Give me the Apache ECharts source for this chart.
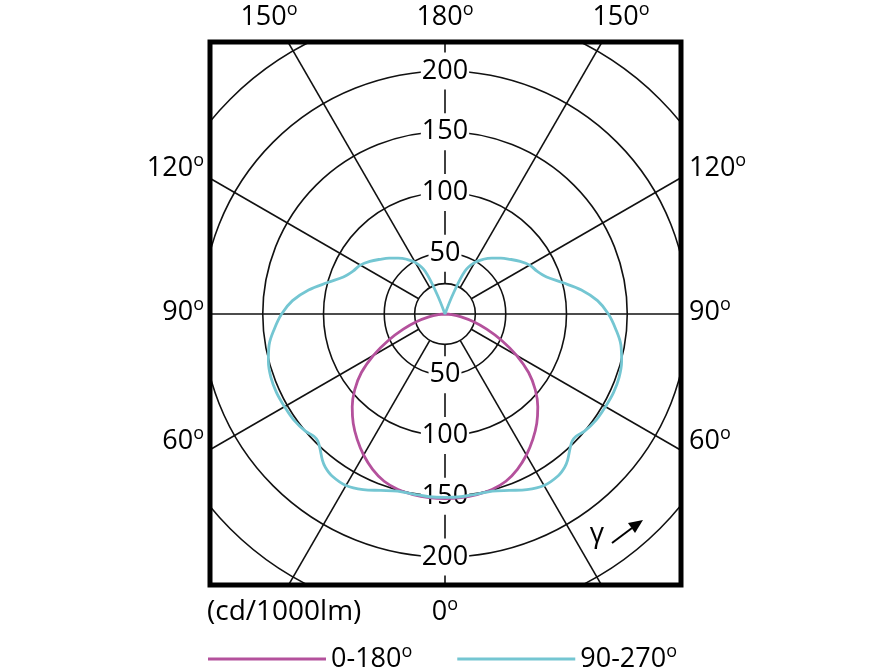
<!DOCTYPE html>
<html>
<head>
<meta charset="utf-8">
<script src="https://cdn.jsdelivr.net/npm/echarts@6/dist/echarts.min.js"></script>
<style>html,body{margin:0;padding:0;background:#fff}#c{width:892px;height:669px}</style>
</head>
<body>
<div id="c"></div>
<script>
// ---- data (gamma in degrees, intensity in cd/1000lm) ----
const gammaC0 = [0, 5, 10, 15, 20, 25, 30, 35, 40, 45, 50, 55, 60, 65, 70, 75, 80, 85, 90];
const intensityC0 = [152, 151.8, 151, 149.5, 146.5, 141, 134, 126, 117.5, 108, 97, 84, 68, 51.5, 36.5, 24, 13.5, 5.5, 0];

const gammaC90 = [0, 5, 10, 15, 20, 25, 30, 35, 38, 40, 43, 45, 47, 50, 55, 60, 65, 70, 75, 80, 85, 90, 95, 100, 105, 110, 115, 120, 125, 130, 135, 140, 145, 150, 155, 158, 160, 170, 180];
const intensityC90 = [151, 151, 150.5, 151, 154.5, 159.5, 163, 162.5, 160, 157, 151, 148, 147.5, 150, 152, 152.5, 153, 152.5, 150.5, 147, 141, 134.5, 126, 114, 100, 89, 83.5, 80.5, 75.5, 70, 65, 60, 55, 49, 39, 18, 0, 0, 0];

const seriesNames = ['0-180', '90-270'];
const radiusLabels = [50, 100, 150, 200];
const ringValues = [25, 50, 100, 150, 200, 250];
const topAngleLabels = ['150', '180', '150'];
const leftAngleLabels = ['120', '90', '60'];
const rightAngleLabels = ['120', '90', '60'];
const bottomAngleLabel = '0';
const unitLabel = '(cd/1000lm)';

// ---- layout / style ----
const FONT = 'Open Sans';
const FS = 27;
const CX = 445, CY = 314, K = 1.215;
const COLOR_C0 = '#b4519c';
const COLOR_C90 = '#74c6d2';
const T = 'rgba(0,0,0,0)';

function mirrored(g, v) {
  const pts = [];
  for (let i = g.length - 1; i >= 0; i--) pts.push([v[i], 360 - g[i]]);
  for (let i = 0; i < g.length; i++) pts.push([v[i], g[i]]);
  return pts;
}

const ringColors = [];
for (let v = 25; v <= 300; v += 25) ringColors.push(ringValues.includes(v) ? '#111' : T);
const spokeColors = [];
for (let a = 0; a < 360; a += 30) spokeColors.push((a === 90 || a === 270) ? T : '#111');
const horizColors = [];
for (let a = 0; a < 360; a += 30) horizColors.push((a === 90 || a === 270) ? '#111' : T);

const radLabel = {
  show: true, margin: 0, align: 'center', verticalAlign: 'middle',
  fontSize: FS, fontFamily: FONT, color: '#000', lineHeight: 27,
  backgroundColor: '#fff', padding: [5, 1],
  showMinLabel: false,
  formatter: v => radiusLabels.includes(v) ? String(v) : ''
};

const rich = {
  n: { fontSize: FS, fontFamily: FONT, lineHeight: 32, fill: '#000', color: '#000' },
  s: { fontSize: 18, fontFamily: FONT, lineHeight: 14, verticalAlign: 'top', fill: '#000', color: '#000' }
};
function degText(x, y, num, align) {
  return {
    type: 'text', x: x, y: y, z: 52, silent: true,
    style: { text: '{n|' + num + '}{s|o}', rich: rich, align: align, verticalAlign: 'middle', fill: '#000', fontFamily: FONT }
  };
}

const elements = [
  { type: 'rect', shape: { x: 0, y: 0, width: 892, height: 40 }, style: { fill: '#fff' }, z: 50, silent: true },
  { type: 'rect', shape: { x: 0, y: 587, width: 892, height: 82 }, style: { fill: '#fff' }, z: 50, silent: true },
  { type: 'rect', shape: { x: 0, y: 0, width: 208, height: 669 }, style: { fill: '#fff' }, z: 50, silent: true },
  { type: 'rect', shape: { x: 683, y: 0, width: 209, height: 669 }, style: { fill: '#fff' }, z: 50, silent: true },
  { type: 'rect', shape: { x: 210, y: 42, width: 471, height: 543 }, style: { fill: 'none', stroke: '#000', lineWidth: 5 }, z: 51, silent: true },
  degText(269, 17, topAngleLabels[0], 'center'),
  degText(445, 17, topAngleLabels[1], 'center'),
  degText(621, 17, topAngleLabels[2], 'center'),
  degText(204, 168, leftAngleLabels[0], 'right'),
  degText(204, 312, leftAngleLabels[1], 'right'),
  degText(204, 441, leftAngleLabels[2], 'right'),
  degText(689, 168, rightAngleLabels[0], 'left'),
  degText(689, 312, rightAngleLabels[1], 'left'),
  degText(689, 441, rightAngleLabels[2], 'left'),
  degText(445, 612, bottomAngleLabel, 'center'),
  { type: 'text', x: 207, y: 612, z: 52, silent: true,
    style: { text: unitLabel, fontSize: 28, fontFamily: FONT, fill: '#000', align: 'left', verticalAlign: 'middle' } },
  { type: 'text', x: 597, y: 534, z: 52, silent: true,
    style: { text: 'γ', fontSize: 28, fontFamily: FONT, fill: '#000', align: 'center', verticalAlign: 'middle' } },
  { type: 'line', shape: { x1: 612, y1: 543, x2: 632, y2: 528 }, style: { stroke: '#000', lineWidth: 2 }, z: 52, silent: true },
  { type: 'polygon', shape: { points: [[643, 520], [628, 523], [635, 533]] }, style: { fill: '#000' }, z: 52, silent: true }
];

const chart = echarts.init(document.getElementById('c'), null, { renderer: 'canvas' });
chart.setOption({
  animation: false,
  backgroundColor: '#fff',
  polar: [
    { center: [CX, CY], radius: [25 * K, 300 * K] },
    { center: [CX, CY], radius: [0, 200 * K] },
    { center: [CX, CY], radius: [0, 200 * K] }
  ],
  angleAxis: [
    { polarIndex: 0, type: 'value', min: 0, max: 360, interval: 30, startAngle: 90, z: 0,
      axisLine: { show: false }, axisTick: { show: false }, axisLabel: { show: false },
      splitLine: { show: true, lineStyle: { color: spokeColors, width: 1.6 } } },
    { polarIndex: 1, type: 'value', min: 0, max: 360, interval: 30, startAngle: -90, clockwise: false, z: 0,
      axisLine: { show: false }, axisTick: { show: false }, axisLabel: { show: false },
      splitLine: { show: true, lineStyle: { color: horizColors, width: 1.6 } } },
    { polarIndex: 2, type: 'value', min: 0, max: 360, interval: 30, startAngle: 90, z: 0,
      axisLine: { show: false }, axisTick: { show: false }, axisLabel: { show: false },
      splitLine: { show: false } }
  ],
  radiusAxis: [
    { polarIndex: 0, type: 'value', min: 25, max: 300, interval: 25, z: 0,
      axisLine: { show: false }, axisTick: { show: false }, axisLabel: { show: false },
      splitLine: { show: true, lineStyle: { color: ringColors, width: 1.6 } } },
    { polarIndex: 1, type: 'value', min: 0, max: 200, interval: 50, z: 1,
      axisLine: { show: false }, axisTick: { show: false }, axisLabel: radLabel,
      splitLine: { show: false } },
    { polarIndex: 2, type: 'value', min: 0, max: 200, interval: 50, z: 1,
      axisLine: { show: false }, axisTick: { show: false }, axisLabel: radLabel,
      splitLine: { show: false } }
  ],
  legend: {
    left: 208, top: 643, z: 60, padding: 0, icon: 'rect', itemWidth: 118, itemHeight: 3, itemGap: 45,
    data: seriesNames,
    formatter: n => n + '{s|o}',
    textStyle: { fontSize: FS, fontFamily: FONT, color: '#000', lineHeight: 32,
      rich: { s: { fontSize: 18, fontFamily: FONT, lineHeight: 14, verticalAlign: 'top', color: '#000' } } }
  },
  series: [
    { type: 'line', name: seriesNames[0], coordinateSystem: 'polar', polarIndex: 1, z: 3,
      data: mirrored(gammaC0, intensityC0), symbol: 'none', smooth: 0.4,
      lineStyle: { color: COLOR_C0, width: 2.8 }, itemStyle: { color: COLOR_C0 } },
    { type: 'line', name: seriesNames[1], coordinateSystem: 'polar', polarIndex: 1, z: 3,
      data: mirrored(gammaC90, intensityC90), symbol: 'none', smooth: 0.35,
      lineStyle: { color: COLOR_C90, width: 2.8 }, itemStyle: { color: COLOR_C90 } }
  ],
  graphic: { elements: elements }
});
</script>
</body>
</html>
